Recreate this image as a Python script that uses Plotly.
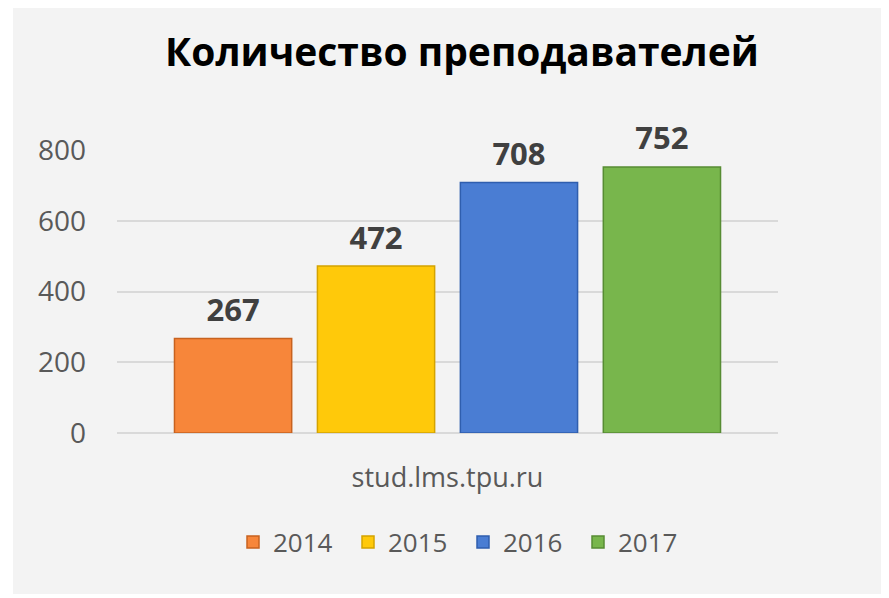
import plotly.graph_objects as go

# Data
years = ["2014", "2015", "2016", "2017"]
teachers = [267, 472, 708, 752]
category = ["stud.lms.tpu.ru"]
bar_colors = ["#F7863A", "#FFC90A", "#4A7DD3", "#78B64C"]
edge_colors = ["#C8621F", "#D4A300", "#2F5EAE", "#578C33"]
y_ticks = [0, 200, 400, 600, 800]

# page body has an 8px margin, so the figure is placed 8px in
W, H = 881, 590
ML, MR, MT, MB = 109, 111, 142, 165
pw, ph = W - ML - MR, H - MT - MB

fig = go.Figure()
for year, val, col, edge in zip(years, teachers, bar_colors, edge_colors):
    fig.add_trace(
        go.Bar(
            name=year,
            x=category,
            y=[val],
            offsetgroup=year,
            marker=dict(color=col, line=dict(color=edge, width=1.5)),
        )
    )
# value labels, grouped like the bars so they sit over each one
for year, val in zip(years, teachers):
    fig.add_trace(
        go.Scatter(
            x=category,
            y=[val],
            offsetgroup=year,
            mode="markers+text",
            marker=dict(size=14, opacity=0),
            text=[str(val)],
            textposition="top center",
            textfont=dict(family="Open Sans", size=31, color="#404040", weight="bold"),
            cliponaxis=False,
            showlegend=False,
            hoverinfo="skip",
        )
    )

# gray chart box behind everything
fig.add_shape(
    type="rect",
    xref="paper", yref="paper",
    x0=(5 - ML) / pw, x1=(877 - ML) / pw,
    y0=(H - MB - 586) / ph, y1=(H - MB + 3) / ph,
    fillcolor="#F3F3F3",
    line=dict(width=0),
    layer="below",
)

fig.update_layout(
    width=W,
    height=H,
    margin=dict(l=ML, r=MR, t=MT, b=MB),
    paper_bgcolor="white",
    plot_bgcolor="rgba(0,0,0,0)",
    barmode="group",
    bargap=0.135,
    bargroupgap=0.18,
    scattermode="group",
    scattergap=0.135,
    title=dict(
        text="<b>Количество преподавателей</b>",
        x=454 / W,
        xanchor="center",
        y=1 - 44 / H,
        yanchor="middle",
        font=dict(family="Open Sans", size=39, color="#000000"),
    ),
    showlegend=True,
    legend=dict(
        orientation="h",
        x=(455 - ML) / pw,
        xanchor="center",
        y=-(534 - (H - MB)) / ph,
        yanchor="middle",
        entrywidth=70,
        font=dict(family="Open Sans", size=26, color="#595959"),
        bgcolor="rgba(0,0,0,0)",
    ),
    font=dict(family="Open Sans", color="#595959"),
)
fig.update_yaxes(
    range=[0, 800],
    tickvals=y_ticks,
    tickfont=dict(size=28, color="#595959"),
    gridcolor="#D9D9D9",
    gridwidth=1.5,
    zeroline=True,
    zerolinecolor="#D9D9D9",
    zerolinewidth=2,
    showline=False,
    ticks="",
    ticklabelstandoff=30,
)
fig.update_xaxes(
    tickfont=dict(size=27, color="#595959"),
    showline=False,
    ticks="",
    ticklabelstandoff=26,
)

fig.write_html("out.html")
